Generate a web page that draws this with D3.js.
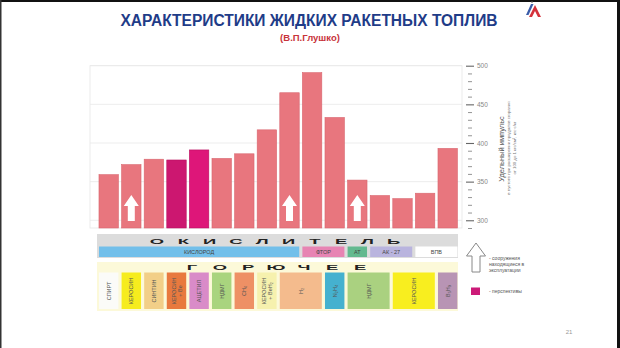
<!DOCTYPE html>
<html><head><meta charset="utf-8">
<script src="https://cdn.jsdelivr.net/npm/d3@7/dist/d3.min.js"></script>
<style>
body{margin:0;background:#fff;}
svg{display:block;font-family:"Liberation Sans",Arial,sans-serif;}
</style>
</head><body>
<svg id="c" width="620" height="348"></svg>
<script>
// ---- data ----
const oxidizers = ["КИСЛОРОД","КИСЛОРОД","КИСЛОРОД","КИСЛОРОД","КИСЛОРОД","КИСЛОРОД","КИСЛОРОД","КИСЛОРОД","КИСЛОРОД","ФТОР","ФТОР","АТ","АК - 27","АК - 27","ВПВ","ВПВ"];
const fuels = ["СПИРТ","КЕРОСИН","СИНТИН","КЕРОСИН|+ Be","АЦЕТИЛ","НДМГ","CH₄","КЕРОСИН|+ BeH₂","H₂","H₂","N₂H₄","НДМГ ","НДМГ ","КЕРОСИН ","КЕРОСИН ","B₅H₉"];
const impulse = [359, 372, 379, 378, 391, 380, 386, 417, 465, 491, 433, 352, 332, 328, 335, 393];
const inService = [0,1,0,0,0,0,0,0,1,0,0,1,0,0,0,0];
const prospective = [0,0,0,1,1,0,0,0,0,0,0,0,0,0,0,0];
const yTicks = [300, 350, 400, 450, 500];
const yMinor = d3.range(290, 501, 10);
const oxWord = ["О","К","И","С","Л","И","Т","Е","Л","Ь"];
const fuelWord = ["Г","О","Р","Ю","Ч","Е","Е"];
const legendText = ["- сооружения","находящиеся в","эксплуатации"];
const legendText2 = "- перспективы";
const axisTitle = "Удельный импульс";
const axisSub = ["в пустоте при расширении продуктов сгорания","от 100 до 1 кгс/см², кгс·с/кг"];

// ---- styles ----
const oxColor = {"КИСЛОРОД":"#72bfea","ФТОР":"#e784b3","АТ":"#63b98f","АК - 27":"#b9b4de","ВПВ":"#ffffff"};
const fuelColor = {"СПИРТ":"#fbfbf8","КЕРОСИН":"#f6ec1e","СИНТИН":"#f2cf88","КЕРОСИН|+ Be":"#e8793e","АЦЕТИЛ":"#d98bc8",
  "НДМГ":"#a9d47e","CH₄":"#ee9065","КЕРОСИН|+ BeH₂":"#f6f1ae","H₂":"#f4bb8d","N₂H₄":"#45b1cf",
  "НДМГ ":"#aad180","КЕРОСИН ":"#f8ee1f","B₅H₉":"#b894b4"};

const svg = d3.select("#c");

// frame
svg.append("rect").attr("x",0).attr("y",0).attr("width",620).attr("height",2).attr("fill","#111");
svg.append("rect").attr("x",0).attr("y",0).attr("width",1.5).attr("height",348).attr("fill","#333");
svg.append("rect").attr("x",617).attr("y",0).attr("width",3).attr("height",348).attr("fill","#111");

// title
svg.append("text").attr("x",309).attr("y",26).attr("text-anchor","middle")
  .attr("font-size",16).attr("font-weight","bold").attr("fill","#1f3c88")
  .attr("textLength",377).attr("lengthAdjust","spacingAndGlyphs")
  .text("ХАРАКТЕРИСТИКИ ЖИДКИХ РАКЕТНЫХ ТОПЛИВ");
svg.append("text").attr("x",310).attr("y",40.5).attr("text-anchor","middle")
  .attr("font-size",9.5).attr("font-weight","bold").attr("fill","#c8333a")
  .text("(В.П.Глушко)");

// logo
svg.append("path").attr("d","M526,15 L531,4 L533.5,4 L528.5,15Z").attr("fill","#3a5ca8");
svg.append("path").attr("d","M529,17 L535,5 L541,17 L538,17 L535,11 L532,17Z").attr("fill","#d4323c");
svg.append("path").attr("d","M531,3 L532,1 L533,3Z").attr("fill","#999");

// scales
const x = d3.scaleBand().domain(d3.range(impulse.length)).range([97.4,459]).paddingInner(0.14).paddingOuter(0.07);
const y = d3.scaleLinear().domain([290,500]).range([228,65.7]);
const bw = x.bandwidth();

// plot frame + grid
svg.append("rect").attr("x",90).attr("y",y(500)).attr("width",372).attr("height",y(290)-y(500))
  .attr("fill","#fff").attr("stroke","#e6e6e6").attr("stroke-width",0.8);
svg.append("g").selectAll("line").data(yTicks).join("line")
  .attr("x1",90).attr("x2",462).attr("y1",d=>y(d)).attr("y2",d=>y(d))
  .attr("stroke","#e8e8e8").attr("stroke-width",0.8);

// bars
svg.append("g").selectAll("rect").data(impulse).join("rect")
  .attr("x",(d,i)=>x(i)).attr("width",bw)
  .attr("y",d=>y(d)).attr("height",d=>y(290)-y(d))
  .attr("fill",(d,i)=>prospective[i] ? (i===3?"#cc1770":"#de1679") : "#e8767e")
  .attr("stroke",(d,i)=>prospective[i] ? "#b8105e" : "#d9666f").attr("stroke-width",0.6);

// in-service arrows
svg.append("g").selectAll("path").data(impulse.map((d,i)=>i).filter(i=>inService[i])).join("path")
  .attr("d",i=>{const c=x(i)+bw/2, t=y(290)-33, b=y(290)-7, h=t+11;
    return `M${c},${t} L${c+7.5},${h} L${c+3.5},${h} L${c+3.5},${b} L${c-3.5},${b} L${c-3.5},${h} L${c-7.5},${h}Z`;})
  .attr("fill","#fff");

// axis
const axMaj = svg.append("g").attr("transform","translate(466,0)")
  .call(d3.axisRight(y).tickValues(yTicks).tickSize(8).tickPadding(3));
axMaj.select(".domain").remove();
axMaj.selectAll("line").attr("stroke","#666").attr("stroke-width",1.1);
axMaj.selectAll("text").attr("font-size",6.5).attr("fill","#888").attr("font-family","Liberation Sans, Arial, sans-serif");
const axMin = svg.append("g").attr("transform","translate(468,0)")
  .call(d3.axisRight(y).tickValues(yMinor.filter(v=>!yTicks.includes(v))).tickSize(4).tickFormat(""));
axMin.select(".domain").remove();
axMin.selectAll("line").attr("stroke","#888").attr("stroke-width",0.9);

// axis title
svg.append("text").attr("transform","translate(504,149) rotate(-90)").attr("text-anchor","middle")
  .attr("font-size",7.5).attr("fill","#555").text(axisTitle);
axisSub.forEach((t,k)=>{
  svg.append("text").attr("transform",`translate(${510+k*6},${148}) rotate(-90)`).attr("text-anchor","middle")
    .attr("font-size",4.3).attr("fill","#777").text(t);
});

// grouping helper
function groups(arr){
  const g=[]; arr.forEach((v,i)=>{ if(g.length && g[g.length-1].key===v) g[g.length-1].end=i; else g.push({key:v,start:i,end:i}); });
  return g;
}

// oxidizer band
svg.append("rect").attr("x",97).attr("y",234).attr("width",361).attr("height",24).attr("fill","#dcdcdc");
svg.append("g").selectAll("text").data(oxWord).join("text")
  .attr("transform",(d,i)=>`translate(${157+i*26.3},244) scale(2.3,1)`)
  .attr("text-anchor","middle").attr("font-size",8).attr("font-weight","bold").attr("fill","#222")
  .text(d=>d);
const oxG = svg.append("g").selectAll("g").data(groups(oxidizers)).join("g");
oxG.append("rect").attr("x",d=>x(d.start)).attr("width",d=>x(d.end)+bw-x(d.start))
  .attr("y",246.5).attr("height",10.5).attr("fill",d=>oxColor[d.key]);
oxG.append("text").attr("x",d=>(x(d.start)+x(d.end)+bw)/2).attr("y",253.8).attr("text-anchor","middle")
  .attr("font-size",5.5).attr("fill","#444").text(d=>d.key);

// fuel band
svg.append("rect").attr("x",97).attr("y",262).attr("width",361).attr("height",49).attr("fill","#fcf9d9");
svg.append("g").selectAll("text").data(fuelWord).join("text")
  .attr("transform",(d,i)=>`translate(${192+i*28},270) scale(2.3,1)`)
  .attr("text-anchor","middle").attr("font-size",8).attr("font-weight","bold").attr("fill","#222")
  .text(d=>d);
const fG = svg.append("g").selectAll("g").data(groups(fuels)).join("g");
fG.append("rect").attr("x",d=>x(d.start)).attr("width",d=>x(d.end)+bw-x(d.start))
  .attr("y",272.5).attr("height",36.5).attr("fill",d=>fuelColor[d.key]);
fG.each(function(d){
  const lines=d.key.trim().split("|");
  const cx=(x(d.start)+x(d.end)+bw)/2, cy=291;
  const t=d3.select(this).append("text").attr("transform",`translate(${cx},${cy}) rotate(-90)`)
    .attr("text-anchor","middle").attr("font-size",5.5).attr("fill","#555");
  lines.forEach((l,k)=>t.append("tspan").attr("x",0).attr("y",(k-(lines.length-1)/2)*6+2).text(l));
});

// legend
svg.append("path").attr("d","M476,243 L485.5,256 L480,256 L480,272 L472,272 L472,256 L466.5,256Z")
  .attr("fill","#fff").attr("stroke","#888").attr("stroke-width",1);
legendText.forEach((t,k)=>svg.append("text").attr("x",489).attr("y",260+k*6).attr("font-size",5)
  .attr("fill","#555").text(t));
svg.append("rect").attr("x",471).attr("y",287.5).attr("width",9).attr("height",7.5).attr("fill","#cc1a78");
svg.append("text").attr("x",489).attr("y",293).attr("font-size",5).attr("fill","#555").text(legendText2);

// page number
svg.append("text").attr("x",569).attr("y",334).attr("text-anchor","middle").attr("font-size",6)
  .attr("fill","#999").text("21");
</script>
</body></html>
